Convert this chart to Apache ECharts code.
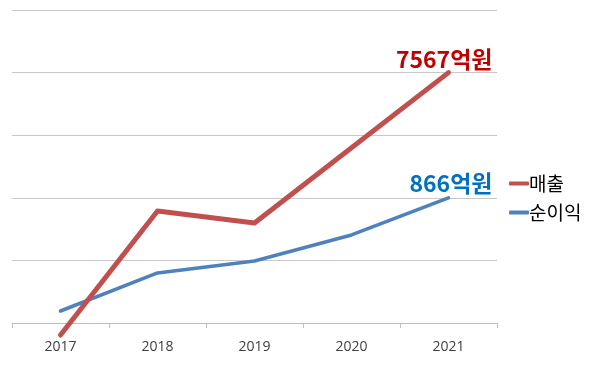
<!DOCTYPE html>
<html>
<head>
<meta charset="utf-8">
<script src="https://cdn.jsdelivr.net/npm/echarts@6/dist/echarts.min.js"></script>
<style>
  html, body { margin: 0; padding: 0; background: #fff; }
  #main { width: 600px; height: 369px; }
</style>
</head>
<body>
<div id="main"></div>
<script>
// 연도
var years = ['2017', '2018', '2019', '2020', '2021'];
// 매출 (억원)
var sales = [2781, 5043, 4824, 6196, 7567];
// 순이익 (억원)
var profit = [83, 346, 429, 609, 866];
var salesLabel = '7567억원';
var profitLabel = '866억원';

var chart = echarts.init(document.getElementById('main'));

function lastOnly(text, n) {
  return function (p) { return p.dataIndex === n - 1 ? text : ''; };
}

chart.setOption({
  animation: false,
  grid: { left: 12, right: 103, top: 10, bottom: 46, containLabel: false },
  legend: {
    orient: 'vertical',
    left: 504,
    top: 169,
    itemGap: 10,
    itemWidth: 20,
    itemHeight: 4,
    icon: 'roundRect',
    textStyle: { fontFamily: 'Noto Sans CJK KR', fontSize: 19, color: '#000', padding: [0, 0, 0, -5] },
    data: ['매출', '순이익']
  },
  xAxis: {
    type: 'category',
    data: years,
    boundaryGap: true,
    axisLine: { lineStyle: { color: '#bfbfbf', width: 1 } },
    axisTick: { show: true, length: 5, lineStyle: { color: '#bfbfbf' } },
    axisLabel: { color: '#404040', fontSize: 14, fontFamily: 'Open Sans', margin: 17 }
  },
  yAxis: [
    {
      type: 'value', min: 0, max: 2165, interval: 433,
      axisLine: { show: false }, axisTick: { show: false }, axisLabel: { show: false },
      splitLine: { lineStyle: { color: '#c8c8c8', width: 1 } }
    },
    {
      type: 'value', min: 3000, max: 8709,
      axisLine: { show: false }, axisTick: { show: false }, axisLabel: { show: false },
      splitLine: { show: false }
    }
  ],
  series: [
    {
      name: '매출',
      type: 'line',
      yAxisIndex: 1,
      data: sales,
      clip: false,
      showSymbol: true,
      symbol: 'circle',
      symbolSize: 0,
      color: '#C0504D',
      lineStyle: { color: '#C0504D', width: 5, cap: 'round', join: 'round' },
      label: {
        show: true,
        position: 'top',
        align: 'right',
        distance: 2,
        offset: [44, 0],
        formatter: lastOnly(salesLabel, sales.length),
        color: '#C00000',
        fontSize: 23,
        fontWeight: 'bold',
        fontFamily: 'Noto Sans CJK KR'
      },
      z: 3
    },
    {
      name: '순이익',
      type: 'line',
      yAxisIndex: 0,
      data: profit,
      clip: false,
      showSymbol: true,
      symbol: 'circle',
      symbolSize: 0,
      color: '#4F81BD',
      lineStyle: { color: '#4F81BD', width: 3.5, cap: 'round', join: 'round' },
      label: {
        show: true,
        position: 'top',
        align: 'right',
        distance: 3,
        offset: [44, 0],
        formatter: lastOnly(profitLabel, profit.length),
        color: '#0070C0',
        fontSize: 23,
        fontWeight: 'bold',
        fontFamily: 'Noto Sans CJK KR'
      },
      z: 2
    }
  ]
});
</script>
</body>
</html>
